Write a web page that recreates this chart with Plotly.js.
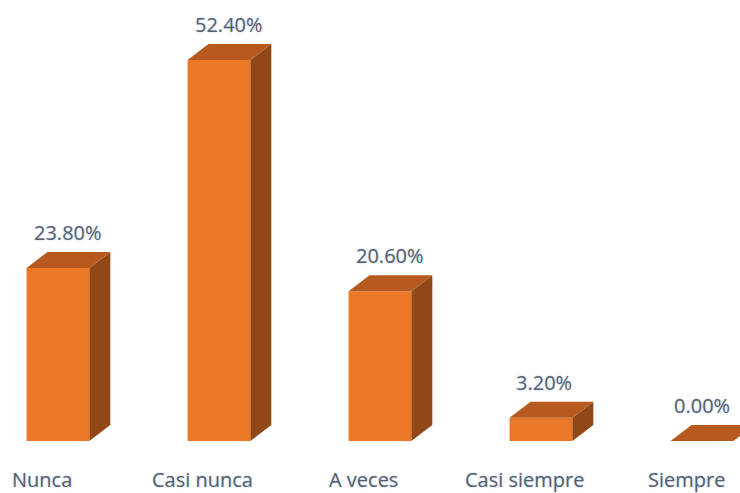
<!DOCTYPE html>
<html>
<head>
<meta charset="utf-8">
<script src="https://cdn.plot.ly/plotly-3.0.1.min.js"></script>
<style>html,body{margin:0;padding:0;background:#fff;}#chart{width:740px;height:493px;}</style>
</head>
<body>
<div id="chart"></div>
<script>
const categories = ["Nunca", "Casi nunca", "A veces", "Casi siempre", "Siempre"];
const values = [23.8, 52.4, 20.6, 3.2, 0.0];
const valueLabels = ["23.80%", "52.40%", "20.60%", "3.20%", "0.00%"];

const frontColor = "#EA7826";
const topColor = "#B65A1F";
const sideColor = "#914716";
const textColor = "#56606f";
const barW = 0.39;   // front face width (category units)
const dx = 0.13;     // depth offset x (category units)
const dy = 2.2;      // depth offset y (value units)

const xs = categories.map((c, i) => i);
const traces = [{
  type: "bar", x: xs, y: values, width: barW,
  marker: {color: frontColor, line: {width: 0}},
  hoverinfo: "skip", showlegend: false
}];
xs.forEach((i) => {
  const v = values[i];
  const l = i - barW / 2, r = i + barW / 2;
  traces.push({
    type: "scatter", mode: "lines", fill: "toself",
    x: [r, r + dx, r + dx, r, r],
    y: [0, dy, v + dy, v, 0],
    fillcolor: sideColor, line: {width: 0, color: sideColor},
    hoverinfo: "skip", showlegend: false
  });
  traces.push({
    type: "scatter", mode: "lines", fill: "toself",
    x: [l, r, r + dx, l + dx, l],
    y: [v, v, v + dy, v + dy, v],
    fillcolor: topColor, line: {width: 0, color: topColor},
    hoverinfo: "skip", showlegend: false
  });
});

const fontBase = {family: "Open Sans, sans-serif", color: textColor,
                  shadow: "0px 0px 2px rgba(140,170,210,0.7)"};
const annotations = [];
xs.forEach((i) => {
  annotations.push({
    x: i + (dx / 2) * Math.min(1, values[i] / 10), y: values[i] + dy, xref: "x", yref: "y",
    text: valueLabels[i], showarrow: false, yanchor: "bottom", yshift: 4,
    font: Object.assign({size: 20}, fontBase)
  });
  annotations.push({
    x: i, y: 0, xref: "x", yref: "paper",
    text: categories[i], showarrow: false, yanchor: "middle", yshift: -38, xshift: -16,
    font: Object.assign({size: 20}, fontBase)
  });
});

const layout = {
  width: 740, height: 493,
  margin: {l: 0, r: 0, t: 0, b: 52, pad: 0},
  paper_bgcolor: "#ffffff", plot_bgcolor: "#ffffff",
  showlegend: false,
  xaxis: {range: [-0.36, 4.236], visible: false, fixedrange: true},
  yaxis: {range: [0, 60.66], visible: false, fixedrange: true},
  annotations: annotations
};
Plotly.newPlot("chart", traces, layout, {staticPlot: true, displayModeBar: false});
</script>
</body>
</html>
